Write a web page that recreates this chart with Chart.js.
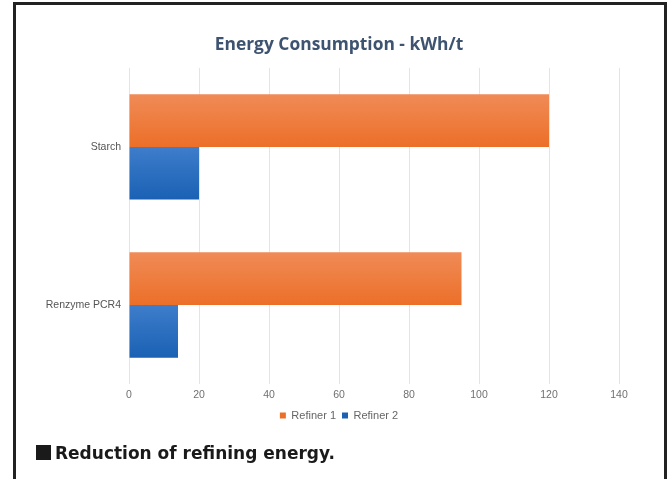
<!DOCTYPE html>
<html>
<head>
<meta charset="utf-8">
<script src="https://cdn.jsdelivr.net/npm/chart.js@4"></script>
<style>
  html, body { margin: 0; padding: 0; background: #fff; width: 672px; height: 479px; overflow: hidden; position: relative; }
  #frame { position: absolute; left: 13px; top: 2px; width: 648px; height: 500px; border: 3px solid #222; box-sizing: content-box; pointer-events: none; }
  #wrap { position: absolute; left: 0; top: 0; width: 678px; height: 431px; }
  #sq { position: absolute; left: 36px; top: 445px; width: 15px; height: 15px; background: #1a1a1a; }
  #caption { position: absolute; left: 55px; top: 445px; font-family: "DejaVu Sans", sans-serif; font-weight: 700; font-size: 17px; line-height: 17px; color: #1a1a1a; white-space: nowrap; }
</style>
</head>
<body>
<div id="wrap"><canvas id="c" width="678" height="431"></canvas></div>
<div id="frame"></div>
<div id="sq"></div>
<div id="caption">Reduction of refining energy.</div>
<script>
const categories = ["Starch", "Renzyme PCR4"];
const seriesNames = ["Refiner 1", "Refiner 2"];
const refiner1 = [120, 95];
const refiner2 = [20, 14];
const xTicks = [0, 20, 40, 60, 80, 100, 120, 140];
const titleText = "Energy Consumption - kWh/t";

const CAT_PCT = 0.667;
const palette = [
  { solid: "#EE7836", top: "#F08B57", bottom: "#EC6F28" },
  { solid: "#2A6CBF", top: "#3E7DCB", bottom: "#1A61B4" }
];

function barFill(dsIndex) {
  return function(ctx) {
    const p = palette[dsIndex];
    if (ctx.type !== "data") return p.solid;
    const chart = ctx.chart;
    const ys = chart.scales.y;
    if (!ys || !chart.chartArea) return p.solid;
    const center = ys.getPixelForValue(ctx.dataIndex);
    const band = Math.abs(ys.getPixelForValue(1) - ys.getPixelForValue(0)) || 1;
    const full = band * CAT_PCT;
    const half = full / 2;
    const top = center - full / 2 + dsIndex * half;
    const g = chart.ctx.createLinearGradient(0, top, 0, top + half);
    g.addColorStop(0, p.top);
    g.addColorStop(1, p.bottom);
    return g;
  };
}

const smallFont = { family: "Liberation Sans, Arial", size: 10.5 };

new Chart(document.getElementById("c"), {
  type: "bar",
  data: {
    labels: categories,
    datasets: [
      { label: seriesNames[0], data: refiner1, backgroundColor: barFill(0), borderWidth: 0 },
      { label: seriesNames[1], data: refiner2, backgroundColor: barFill(1), borderWidth: 0 }
    ]
  },
  options: {
    indexAxis: "y",
    responsive: false,
    animation: false,
    devicePixelRatio: 1,
    datasets: { bar: { barPercentage: 1, categoryPercentage: CAT_PCT } },
    layout: { padding: 0 },
    scales: {
      x: {
        min: 0, max: 140,
        afterBuildTicks: (s) => { s.ticks = xTicks.map(v => ({ value: v })); },
        afterFit: (s) => { s.height = 20; },
        grid: { color: "#E4E4E4", lineWidth: 1, drawTicks: false },
        border: { display: false },
        ticks: { padding: 5, color: "#707070", font: smallFont }
      },
      y: {
        afterFit: (s) => { s.width = 129; },
        grid: { display: false, drawTicks: false },
        border: { display: false },
        ticks: { padding: 8, color: "#555", font: smallFont }
      },
      yRight: {
        type: "linear",
        position: "right",
        min: 0, max: 1,
        afterFit: (s) => { s.width = 59; },
        grid: { display: false, drawTicks: false },
        border: { display: false },
        ticks: { display: false }
      }
    },
    plugins: {
      title: {
        display: true,
        text: titleText,
        color: "#3E5370",
        font: { family: "Open Sans", size: 17.4, weight: "bold" },
        padding: { top: 35, bottom: 12 }
      },
      legend: {
        position: "bottom",
        labels: {
          boxWidth: 6, boxHeight: 6, padding: 6,
          color: "#666",
          font: { family: "Liberation Sans, Arial", size: 11 }
        }
      },
      tooltip: { enabled: false }
    }
  }
});
</script>
</body>
</html>
